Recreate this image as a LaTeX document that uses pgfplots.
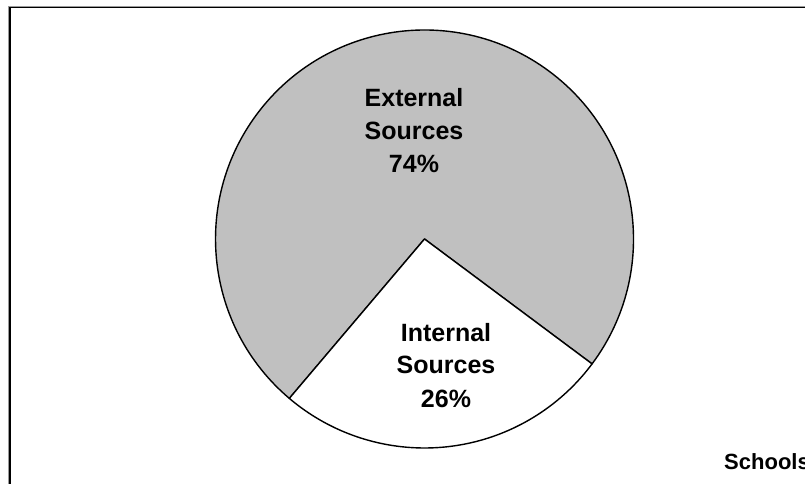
\documentclass[border=0pt]{standalone}
\usepackage{pgfplots}
\usepackage{pgfplotstable}
\pgfplotsset{compat=1.18}
\usepackage{fontspec}
\setmainfont{Liberation Sans}

\definecolor{slicegray}{HTML}{C0C0C0}
\definecolor{shadowgray}{HTML}{9A9A9A}

% shares of funding, in percent
\pgfplotstableread{
source   share
External 74
Internal 26
}\sharetable

\pgfplotstablegetelem{0}{share}\of\sharetable \let\extshare\pgfplotsretval
\pgfplotstablegetelem{1}{share}\of\sharetable \let\intshare\pgfplotsretval

% internal slice starts at the lower left, runs counter-clockwise
\pgfmathsetmacro{\intstart}{-130.3}
\pgfmathsetmacro{\intend}{\intstart + 3.6*\intshare}
\pgfmathsetmacro{\extend}{\intend + 3.6*\extshare}

\begin{document}
\begin{tikzpicture}
\path[use as bounding box, clip] (0,0) rectangle (805bp,484bp);
\begin{axis}[
  at={(0,0)}, anchor=south west,
  scale only axis, width=805bp, height=484bp,
  xmin=0, xmax=805, ymin=0, ymax=484,
  hide axis, clip=false,
]
  % chart area frame with its shadow
  \draw[shadowgray, line width=1bp] (axis cs:8,-5) -- (axis cs:8,477.5) -- (axis cs:820,477.5);
  \draw[black, line width=1.6bp] (axis cs:10,-5) -- (axis cs:10,476.3) -- (axis cs:820,476.3);

  % external slice
  \filldraw[fill=slicegray, draw=black, line width=1.4bp, line join=round]
    (axis cs:424.5,245) -- ++(\intend:209bp)
    arc[start angle=\intend, end angle=\extend, radius=209bp] -- cycle;
  % internal slice
  \filldraw[fill=white, draw=black, line width=1.4bp, line join=round]
    (axis cs:424.5,245) -- ++(\intstart:209bp)
    arc[start angle=\intstart, end angle=\intend, radius=209bp] -- cycle;

  \begin{scope}[every node/.style={font=\fontsize{25bp}{30bp}\selectfont\bfseries, anchor=base, inner sep=0pt}]
    \node at (axis cs:414,377) {External};
    \node at (axis cs:414,344) {Sources};
    \node at (axis cs:414,311) {\extshare\%};
    \node at (axis cs:446,142) {Internal};
    \node at (axis cs:446,110) {Sources};
    \node at (axis cs:446,76) {\intshare\%};
  \end{scope}

  \node[font=\fontsize{22bp}{26bp}\selectfont\bfseries, anchor=base west, inner sep=0pt]
    at (axis cs:724,15) {Schools};
\end{axis}
\end{tikzpicture}
\end{document}
